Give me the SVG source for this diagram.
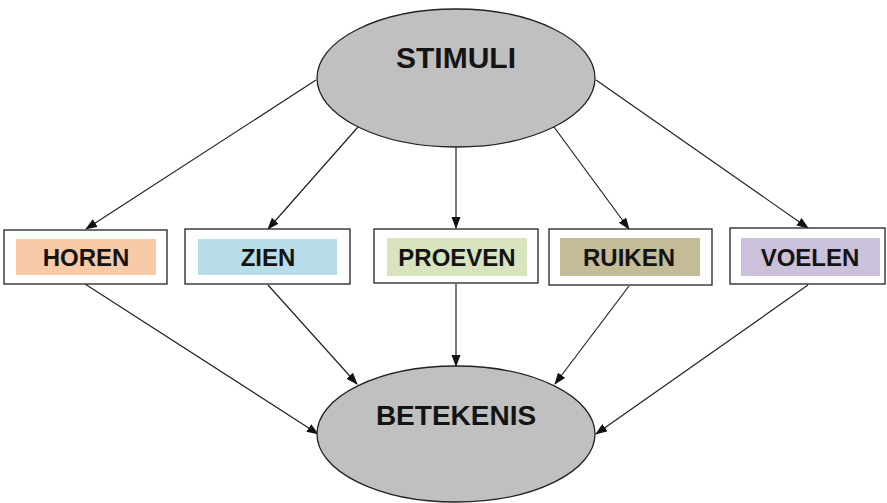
<svg xmlns="http://www.w3.org/2000/svg" width="887" height="503" viewBox="0 0 887 503">
<style>
.ell{fill:#c0c0c0;stroke:#222;stroke-width:1.3}
.box{fill:#fff;stroke:#222;stroke-width:1.3}
.lbl{font-family:"Liberation Sans",Arial,sans-serif;font-weight:bold;fill:#141414;text-anchor:middle}
.conn line{stroke:#222;stroke-width:1.2;marker-end:url(#ah)}
</style>
<defs>
<marker id="ah" markerUnits="userSpaceOnUse" markerWidth="12" markerHeight="10" refX="11" refY="4.5" orient="auto">
<path d="M0,0 L12,4.5 L0,9 Z" fill="#111"/>
</marker>
</defs>
<rect width="887" height="503" fill="#fff"/>
<g class="conn">
<line x1="316" y1="80" x2="86" y2="229"/>
<line x1="358" y1="127" x2="268" y2="229"/>
<line x1="456" y1="147" x2="456" y2="228"/>
<line x1="554" y1="127" x2="629" y2="229"/>
<line x1="596" y1="80" x2="808" y2="228"/>
<line x1="85" y1="284" x2="318" y2="434"/>
<line x1="268" y1="285" x2="357" y2="384"/>
<line x1="456" y1="284" x2="456" y2="366"/>
<line x1="629" y1="286" x2="555" y2="384"/>
<line x1="808" y1="285" x2="596" y2="434"/>
</g>
<g id="stimuli">
<ellipse class="ell" cx="456" cy="78" rx="139" ry="69"/>
<text class="lbl" x="456" y="68" font-size="30">STIMULI</text>
</g>
<g id="horen">
<rect class="box" x="4" y="230" width="163" height="54"/>
<rect x="16" y="239" width="140" height="36" fill="#f9caa7"/>
<text class="lbl" x="86" y="266" font-size="24">HOREN</text>
</g>
<g id="zien">
<rect class="box" x="185" y="229" width="165" height="55"/>
<rect x="198" y="239" width="139" height="36" fill="#b7dde8"/>
<text class="lbl" x="268" y="266" font-size="24">ZIEN</text>
</g>
<g id="proeven">
<rect class="box" x="374" y="229" width="164" height="54"/>
<rect x="387" y="238" width="140" height="38" fill="#d7e4bd"/>
<text class="lbl" x="457" y="266" font-size="24">PROEVEN</text>
</g>
<g id="ruiken">
<rect class="box" x="549" y="229" width="163" height="56"/>
<rect x="560" y="238" width="140" height="38" fill="#c4bc96"/>
<text class="lbl" x="629" y="266" font-size="24">RUIKEN</text>
</g>
<g id="voelen">
<rect class="box" x="730" y="228" width="155" height="56"/>
<rect x="741" y="238" width="139" height="38" fill="#ccc1da"/>
<text class="lbl" x="810" y="266" font-size="24">VOELEN</text>
</g>
<g id="betekenis">
<ellipse class="ell" cx="456" cy="434" rx="139" ry="68"/>
<text class="lbl" x="456" y="425" font-size="28">BETEKENIS</text>
</g>
</svg>
